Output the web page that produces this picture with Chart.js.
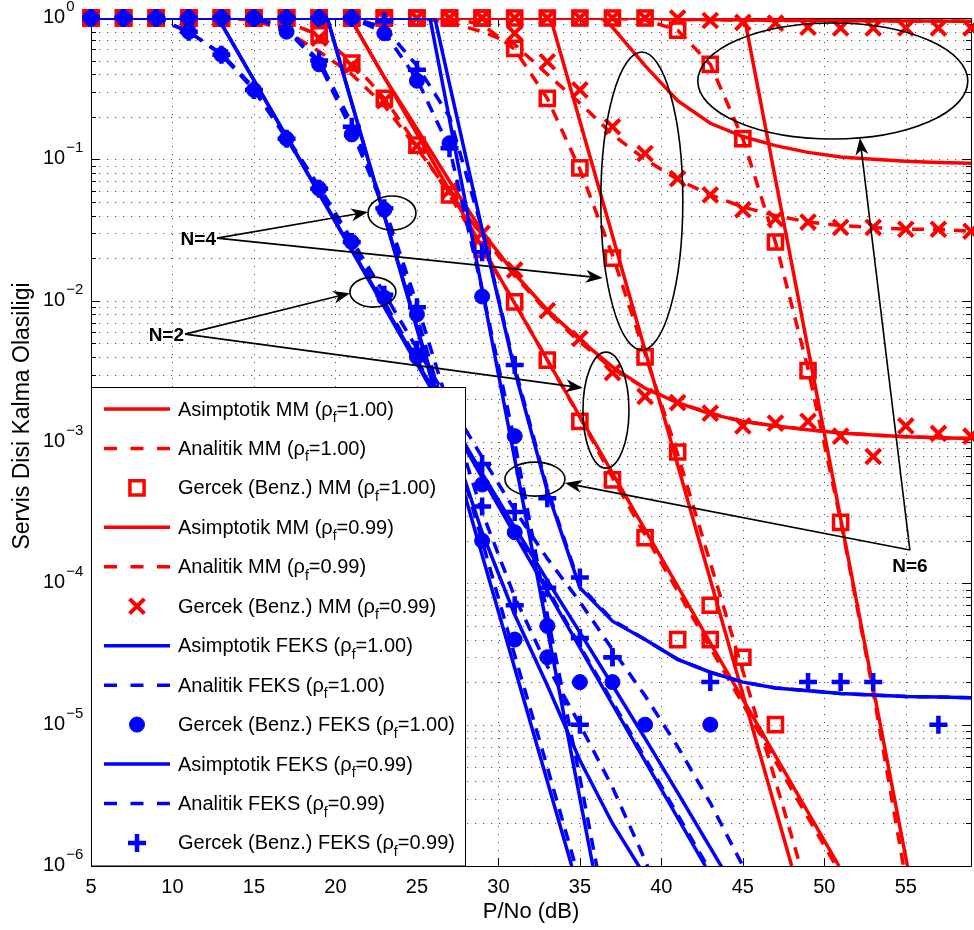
<!DOCTYPE html>
<html>
<head>
<meta charset="utf-8">
<script src="https://cdn.jsdelivr.net/npm/chart.js@4.4.0/dist/chart.umd.min.js"></script>
<style>
  html, body { margin: 0; padding: 0; background: #fff; }
  canvas { display: block; }
</style>
</head>
<body>
<canvas id="outage" width="974" height="930"></canvas>
<script>
// P/No (dB) values of the Monte Carlo points
var snrSim = [5, 7, 9, 11, 13, 15, 17, 19, 21, 23, 25, 27, 29, 31, 33, 35, 37, 39, 41, 43, 45, 47, 49, 51, 53, 55, 57, 59];
var xTickValues = [5, 10, 15, 20, 25, 30, 35, 40, 45, 50, 55];
var yDecades = [-6, -5, -4, -3, -2, -1, 0];

// ---- MM, rho_f = 1.00 : [P/No, Pout] ----
var mmAsyN2r100 = [[5, 1], [20.9, 1], [50.9, 1e-6]];
var mmAnaN2r100 = [[5, 1], [15, 1], [17, 0.93], [19, 0.76], [21, 0.49], [23, 0.27], [25, 0.126], [27, 0.056], [29, 0.023], [31, 0.0097], [33, 0.0038], [35, 0.0015], [37, 5.6e-4], [39, 2.2e-4], [41, 8.8e-5], [43, 3.5e-5], [45, 1.4e-5], [47, 5.5e-6], [49, 2.2e-6], [51, 8.8e-7]];
var mmAsyN4r100 = [[5, 1], [33.2, 1], [48, 1e-6]];
var mmAnaN4r100 = [[5, 1], [27, 1], [29, 0.9], [31, 0.6], [33, 0.27], [35, 0.085], [37, 0.021], [39, 4.2e-3], [41, 8.2e-4], [43, 1.4e-4], [45, 2.4e-5], [47, 4e-6], [49, 6.5e-7]];
var mmAsyN6r100 = [[5, 1], [45.1, 1], [55.1, 1e-6]];
var mmAnaN6r100 = [[5, 1], [37, 1], [39, 0.97], [41, 0.82], [43, 0.47], [45, 0.14], [47, 0.026], [49, 3.3e-3], [51, 2.8e-4], [53, 1.7e-5], [55, 8e-7]];
var mmSimN2r100 = [1, 1, 1, 1, 1, 1, 1, 0.76, 0.48, 0.27, 0.126, 0.056, 0.023, 0.0098, 0.0038, 0.0014, 5.4e-4, 2.1e-4, 4e-5, 4e-5, 3e-5, null, null, null, null, null, null, null];
var mmSimN4r100 = [1, 1, 1, 1, 1, 1, 1, 1, 1, 1, 1, 1, 1, 0.61, 0.27, 0.087, 0.02, 4e-3, 8.5e-4, 7e-5, null, 1e-5, null, null, null, null, null, null];
var mmSimN6r100 = [1, 1, 1, 1, 1, 1, 1, 1, 1, 1, 1, 1, 1, 1, 1, 1, 1, 1, 0.82, 0.47, 0.14, 0.026, 3.2e-3, 2.7e-4, null, null, null, null];

// ---- MM, rho_f = 0.99 ----
var mmAsyN2r99 = [[5, 1], [20.9, 1], [23, 0.38], [25, 0.165], [27, 0.07], [29, 0.031], [31, 0.0155], [33, 0.0086], [35, 0.0053], [37, 0.0034], [39, 0.0024], [41, 0.0019], [43, 0.00158], [45, 0.0014], [47, 0.0013], [49, 0.00122], [51, 0.00116], [53, 0.00112], [55, 0.00109], [57, 0.00107], [59, 0.00106]];
var mmAnaN2r99 = [[5, 1], [13, 1], [15, 0.97], [17, 0.8], [19, 0.58], [21, 0.4], [23, 0.24], [25, 0.12], [27, 0.058], [29, 0.029], [31, 0.015], [33, 0.0083], [35, 0.0051], [37, 0.0033], [39, 0.0024], [41, 0.0019], [43, 0.0016], [45, 0.0014], [47, 0.0013], [49, 0.00122], [51, 0.00116], [53, 0.00112], [55, 0.00109], [57, 0.00107], [59, 0.00106]];
var mmAsyN4r99 = [[5, 1], [36.3, 1], [37, 0.86], [39, 0.46], [41, 0.26], [43, 0.18], [45, 0.145], [47, 0.125], [49, 0.112], [51, 0.104], [53, 0.1], [55, 0.097], [57, 0.095], [59, 0.094]];
var mmAnaN4r99 = [[5, 1], [25, 1], [27, 0.93], [29, 0.8], [31, 0.65], [33, 0.4], [35, 0.25], [37, 0.15], [39, 0.1], [41, 0.072], [43, 0.056], [45, 0.046], [47, 0.04], [49, 0.036], [51, 0.034], [53, 0.033], [55, 0.032], [57, 0.032], [59, 0.031]];
var mmAsyN6r99 = [[5, 1], [39, 1], [41, 0.98], [47, 0.965], [53, 0.955], [59, 0.95]];
var mmAnaN6r99 = [[5, 1], [39, 1], [41, 0.98], [47, 0.96], [53, 0.955], [59, 0.95]];
var mmSimN2r99 = [1, 1, 1, 1, 1, 1, 1, 0.72, 0.46, 0.26, 0.125, 0.06, 0.03, 0.0165, 0.0085, 0.0054, 0.0031, 0.0021, 0.0019, 0.0016, 0.0013, 0.00136, 0.0014, 0.0011, 7.9e-4, 0.0013, 0.00115, 0.0011];
var mmSimN4r99 = [1, 1, 1, 1, 1, 1, 1, 1, 1, 1, 1, 1, 1, 0.78, 0.49, 0.31, 0.17, 0.11, 0.073, 0.056, 0.044, 0.038, 0.036, 0.033, 0.033, 0.032, 0.032, 0.031];
var mmSimN6r99 = [1, 1, 1, 1, 1, 1, 1, 1, 1, 1, 1, 1, 1, 1, 1, 1, 1, 1, 1, 0.96, 0.93, 0.92, 0.86, 0.85, 0.85, 0.85, 0.85, 0.85];

// ---- FEKS, rho_f = 1.00 ----
var fkAsyN2r100 = [[5, 1], [12.8, 1], [42.7, 1e-6]];
var fkAnaN2r100 = [[5, 1], [9, 1], [11, 0.8], [13, 0.55], [15, 0.31], [17, 0.14], [19, 0.06], [21, 0.025], [23, 0.0098], [25, 0.0038], [27, 1.5e-3], [29, 5.8e-4], [31, 2.3e-4], [33, 9.2e-5], [35, 3.6e-5], [37, 1.45e-5], [39, 5.8e-6], [41, 2.3e-6], [43, 9.2e-7]];
var fkAsyN4r100 = [[5, 1], [19.5, 1], [34.5, 1e-6]];
var fkAnaN4r100 = [[5, 1], [15, 1], [17, 0.82], [19, 0.48], [21, 0.16], [23, 0.044], [25, 7.8e-3], [27, 1.25e-3], [29, 2e-4], [31, 3.1e-5], [33, 5e-6], [35, 7.8e-7]];
var fkAsyN6r100 = [[5, 1], [25.8, 1], [35.8, 1e-6]];
var fkAnaN6r100 = [[5, 1], [21, 1], [23, 0.79], [25, 0.37], [27, 0.12], [29, 0.012], [31, 1e-3], [33, 6e-5], [35, 4.2e-6], [37, 2.6e-7]];
var fkSimN2r100 = [1, 1, 1, 0.8, 0.55, 0.31, 0.14, 0.062, 0.026, 0.0105, 0.004, 0.0016, 5e-4, 2.3e-4, 3e-5, 2e-5, 2e-5, 1e-5, null, 1e-5, null, null, null, null, null, null, null, null];
var fkSimN4r100 = [1, 1, 1, 1, 1, 1, 0.8, 0.47, 0.15, 0.044, 0.008, 0.0013, 2e-4, 4e-5, null, null, null, null, null, null, null, null, null, null, null, null, null, null];
var fkSimN6r100 = [1, 1, 1, 1, 1, 1, 1, 1, 1, 0.78, 0.36, 0.13, 0.0107, 1.1e-3, 5e-5, null, null, null, null, null, null, null, null, null, null, null, null, null];

// ---- FEKS, rho_f = 0.99 ----
var fkAsyN2r99 = [[5, 1], [12.8, 1], [17, 0.145], [21, 0.023], [25, 0.0037], [29, 6e-4], [31, 2.5e-4], [33, 1.05e-4], [35, 4.5e-5], [37, 1.9e-5], [39, 8e-6], [41, 3.3e-6], [43, 1.35e-6], [45, 5.5e-7]];
var fkAnaN2r99 = [[5, 1], [9, 1], [11, 0.8], [13, 0.56], [15, 0.32], [17, 0.145], [19, 0.064], [21, 0.027], [23, 0.0112], [25, 0.0046], [27, 1.9e-3], [29, 7.8e-4], [31, 3.3e-4], [33, 1.5e-4], [35, 7.4e-5], [37, 3.4e-5], [39, 1.6e-5], [41, 7e-6], [43, 2.8e-6], [45, 1e-6], [47, 3.5e-7]];
var fkAsyN4r99 = [[5, 1], [19.5, 1], [21, 0.25], [23, 0.04], [25, 6.5e-3], [27, 1.15e-3], [29, 2.3e-4], [31, 6e-5], [33, 1.9e-5], [35, 5.6e-6], [37, 2e-6], [39, 8.5e-7]];
var fkAnaN4r99 = [[5, 1], [15, 1], [17, 0.84], [19, 0.5], [21, 0.18], [23, 0.046], [25, 0.0095], [27, 1.7e-3], [29, 3.2e-4], [31, 8e-5], [33, 2.6e-5], [35, 1e-5], [37, 3.6e-6], [39, 1.1e-6], [41, 3e-7]];
var fkAsyN6r99 = [[5, 1], [26.1, 1], [27, 0.34], [29, 0.032], [31, 3.2e-3], [33, 4.5e-4], [35, 9.3e-5], [37, 5.4e-5], [39, 4e-5], [41, 2.9e-5], [43, 2.35e-5], [45, 2e-5], [47, 1.82e-5], [49, 1.74e-5], [51, 1.66e-5], [53, 1.62e-5], [55, 1.58e-5], [57, 1.57e-5], [59, 1.55e-5]];
var fkAnaN6r99 = [[5, 1], [21, 1], [23, 0.86], [25, 0.46], [27, 0.2], [29, 0.032], [31, 3.4e-3], [33, 4.7e-4], [35, 9.6e-5], [37, 5.5e-5], [39, 4e-5], [41, 2.9e-5], [43, 2.35e-5], [45, 2e-5], [47, 1.82e-5], [49, 1.74e-5], [51, 1.66e-5], [53, 1.62e-5], [55, 1.58e-5], [57, 1.57e-5], [59, 1.55e-5]];
var fkSimN2r99 = [1, 1, 1, 0.8, 0.55, 0.31, 0.14, 0.062, 0.026, 0.011, 0.0045, 0.0018, 7e-4, 3.2e-4, 9.3e-5, 4.1e-5, 3e-5, null, null, null, null, null, null, null, null, null, null, null];
var fkSimN4r99 = [1, 1, 1, 1, 1, 1, 1, 0.5, 0.17, 0.045, 0.009, 1.6e-3, 3.5e-4, 7e-5, null, 1e-5, null, null, null, null, null, null, null, null, null, null, null, null];
var fkSimN6r99 = [1, 1, 1, 1, 1, 1, 1, 1, 1, 0.95, 0.43, 0.12, 0.022, 3.5e-3, 4e-4, 1.1e-4, 3e-5, null, null, 2e-5, null, null, 2e-5, 2e-5, 2e-5, null, 1e-5, null];

var RED = '#ff0000';
var BLUE = '#0000ff';
var FONT = '"Liberation Sans", Arial, Helvetica, sans-serif';

var markStyles = {
  rect:     { pointStyle: 'rect',     r: 10,   w: 3.5, fill: false },
  crossRot: { pointStyle: 'crossRot', r: 10.5, w: 4,   fill: false },
  circle:   { pointStyle: 'circle',   r: 7.5,  w: 1,   fill: true },
  cross:    { pointStyle: 'cross',    r: 9,    w: 4.5, fill: false }
};

function curve(points, color, dashed) {
  return {
    data: points.map(function (p) { return { x: p[0], y: p[1] }; }),
    borderColor: color,
    borderWidth: 3.5,
    borderDash: dashed ? [12, 9] : [],
    pointRadius: 0,
    tension: 0
  };
}

function marks(values, color, kind) {
  var s = markStyles[kind];
  var pts = [];
  values.forEach(function (y, i) { if (y !== null) pts.push({ x: snrSim[i], y: y }); });
  return {
    data: pts,
    showLine: false,
    clip: false,
    pointStyle: s.pointStyle,
    pointRadius: s.r,
    pointBorderWidth: s.w,
    pointBorderColor: color,
    pointBackgroundColor: s.fill ? color : 'rgba(0,0,0,0)',
    borderColor: color,
    backgroundColor: color
  };
}

// bottom to top
var datasets = [
  curve(mmAsyN2r100, RED, false), curve(mmAnaN2r100, RED, true), marks(mmSimN2r100, RED, 'rect'),
  curve(mmAsyN4r100, RED, false), curve(mmAnaN4r100, RED, true), marks(mmSimN4r100, RED, 'rect'),
  curve(mmAsyN6r100, RED, false), curve(mmAnaN6r100, RED, true), marks(mmSimN6r100, RED, 'rect'),
  curve(mmAsyN2r99, RED, false), curve(mmAnaN2r99, RED, true), marks(mmSimN2r99, RED, 'crossRot'),
  curve(mmAsyN4r99, RED, false), curve(mmAnaN4r99, RED, true), marks(mmSimN4r99, RED, 'crossRot'),
  curve(mmAsyN6r99, RED, false), curve(mmAnaN6r99, RED, true), marks(mmSimN6r99, RED, 'crossRot'),
  curve(fkAsyN2r100, BLUE, false), curve(fkAnaN2r100, BLUE, true), marks(fkSimN2r100, BLUE, 'circle'),
  curve(fkAsyN4r100, BLUE, false), curve(fkAnaN4r100, BLUE, true), marks(fkSimN4r100, BLUE, 'circle'),
  curve(fkAsyN6r100, BLUE, false), curve(fkAnaN6r100, BLUE, true), marks(fkSimN6r100, BLUE, 'circle'),
  curve(fkAsyN2r99, BLUE, false), curve(fkAnaN2r99, BLUE, true), marks(fkSimN2r99, BLUE, 'cross'),
  curve(fkAsyN4r99, BLUE, false), curve(fkAnaN4r99, BLUE, true), marks(fkSimN4r99, BLUE, 'cross'),
  curve(fkAsyN6r99, BLUE, false), curve(fkAnaN6r99, BLUE, true), marks(fkSimN6r99, BLUE, 'cross')
];
// chart.js paints the lowest order last
datasets.forEach(function (d, i) { d.order = datasets.length - i; });

var legendRows = [
  { name: 'Asimptotik MM', rho: '1.00', color: RED, kind: 'solid' },
  { name: 'Analitik MM', rho: '1.00', color: RED, kind: 'dashed' },
  { name: 'Gercek (Benz.) MM', rho: '1.00', color: RED, kind: 'rect' },
  { name: 'Asimptotik MM', rho: '0.99', color: RED, kind: 'solid' },
  { name: 'Analitik MM', rho: '0.99', color: RED, kind: 'dashed' },
  { name: 'Gercek (Benz.) MM', rho: '0.99', color: RED, kind: 'crossRot' },
  { name: 'Asimptotik FEKS', rho: '1.00', color: BLUE, kind: 'solid' },
  { name: 'Analitik FEKS', rho: '1.00', color: BLUE, kind: 'dashed' },
  { name: 'Gercek (Benz.) FEKS', rho: '1.00', color: BLUE, kind: 'circle' },
  { name: 'Asimptotik FEKS', rho: '0.99', color: BLUE, kind: 'solid' },
  { name: 'Analitik FEKS', rho: '0.99', color: BLUE, kind: 'dashed' },
  { name: 'Gercek (Benz.) FEKS', rho: '0.99', color: BLUE, kind: 'cross' }
];

// ellipses around curve groups: centre in data units, radii in px
var rings = [
  [23.47, 0.0417, 24, 17],
  [22.3, 0.0115, 23, 15],
  [38.8, 0.0507, 41, 149],
  [36.6, 1.68e-3, 23, 58],
  [32.24, 5.46e-4, 30, 17],
  [50.52, 0.358, 135, 58]
];
var callouts = [
  { text: 'N=4', from: [12.73, 0.0277], to: [[22.0, 0.0424], [36.4, 0.01445]], place: 'left' },
  { text: 'N=2', from: [10.77, 5.8e-3], to: [[20.9, 0.0113], [35.18, 2.41e-3]], place: 'left' },
  { text: 'N=6', from: [55.25, 1.72e-4], to: [[34.08, 5.12e-4], [52.18, 0.1415]], place: 'below' }
];

function drawMarker(ctx, kind, color, cx, cy) {
  var s = markStyles[kind];
  ctx.save();
  ctx.strokeStyle = color;
  ctx.fillStyle = color;
  ctx.lineWidth = s.w;
  ctx.beginPath();
  if (kind === 'rect') {
    var h = s.r * Math.SQRT1_2;
    ctx.rect(cx - h, cy - h, 2 * h, 2 * h);
    ctx.stroke();
  } else if (kind === 'circle') {
    ctx.arc(cx, cy, s.r, 0, Math.PI * 2);
    ctx.fill();
    ctx.stroke();
  } else if (kind === 'cross') {
    ctx.moveTo(cx - s.r, cy); ctx.lineTo(cx + s.r, cy);
    ctx.moveTo(cx, cy - s.r); ctx.lineTo(cx, cy + s.r);
    ctx.stroke();
  } else {
    var d = s.r * Math.SQRT1_2;
    ctx.moveTo(cx - d, cy - d); ctx.lineTo(cx + d, cy + d);
    ctx.moveTo(cx + d, cy - d); ctx.lineTo(cx - d, cy + d);
    ctx.stroke();
  }
  ctx.restore();
}

function arrowHead(ctx, x0, y0, x1, y1) {
  var ang = Math.atan2(y1 - y0, x1 - x0);
  ctx.save();
  ctx.translate(x1, y1);
  ctx.rotate(ang);
  ctx.beginPath();
  ctx.moveTo(0, 0);
  ctx.lineTo(-17, -6.5);
  ctx.lineTo(-12, 0);
  ctx.lineTo(-17, 6.5);
  ctx.closePath();
  ctx.fill();
  ctx.restore();
}

var axesFrame = {
  id: 'axesFrame',
  beforeDatasetsDraw: function (chart) {
    var ctx = chart.ctx, a = chart.chartArea, xs = chart.scales.x, ys = chart.scales.y;
    ctx.save();
    ctx.strokeStyle = '#555';
    ctx.lineWidth = 1;
    ctx.setLineDash([1.2, 6.8]);
    ctx.beginPath();
    xTickValues.forEach(function (v) {
      var px = Math.round(xs.getPixelForValue(v)) + 0.5;
      if (px <= a.left + 1) return;
      ctx.moveTo(px, a.top); ctx.lineTo(px, a.bottom);
    });
    yDecades.forEach(function (e) {
      if (e === 0) return;
      for (var m = 1; m <= 9; m++) {
        if (e === -6 && m === 1) continue;
        var py = Math.round(ys.getPixelForValue(m * Math.pow(10, e))) + 0.5;
        ctx.moveTo(a.left, py); ctx.lineTo(a.right, py);
      }
    });
    ctx.stroke();
    ctx.setLineDash([]);

    // box and inward ticks
    ctx.strokeStyle = '#000';
    ctx.beginPath();
    ctx.rect(Math.round(a.left) + 0.5, Math.round(a.top) + 0.5, Math.round(a.right - a.left), Math.round(a.bottom - a.top));
    xTickValues.forEach(function (v) {
      var px = Math.round(xs.getPixelForValue(v)) + 0.5;
      ctx.moveTo(px, a.bottom); ctx.lineTo(px, a.bottom - 8);
      ctx.moveTo(px, a.top); ctx.lineTo(px, a.top + 8);
    });
    yDecades.forEach(function (e) {
      for (var m = 1; m <= 9; m++) {
        if (e === 0 && m > 1) break;
        var py = Math.round(ys.getPixelForValue(m * Math.pow(10, e))) + 0.5;
        var len = m === 1 ? 9 : 5;
        ctx.moveTo(a.left, py); ctx.lineTo(a.left + len, py);
        ctx.moveTo(a.right, py); ctx.lineTo(a.right - len, py);
      }
    });
    ctx.stroke();
    ctx.restore();
  },
  afterDraw: function (chart) {
    var ctx = chart.ctx, a = chart.chartArea, xs = chart.scales.x, ys = chart.scales.y;
    ctx.save();
    ctx.fillStyle = '#000';

    // tick labels
    ctx.font = '20px ' + FONT;
    ctx.textAlign = 'center';
    ctx.textBaseline = 'alphabetic';
    xTickValues.forEach(function (v) {
      ctx.fillText(String(v), xs.getPixelForValue(v), a.bottom + 27);
    });
    yDecades.forEach(function (e) {
      var py = ys.getPixelForValue(Math.pow(10, e));
      ctx.textAlign = 'left';
      ctx.font = '20px ' + FONT;
      ctx.fillText('10', 43, py + 5);
      var w = ctx.measureText('10').width;
      ctx.font = '15px ' + FONT;
      ctx.fillText(e === 0 ? '0' : '\u2212' + (-e), 43 + w + 1, py - 7);
    });

    // axis titles
    ctx.font = '22px ' + FONT;
    ctx.textAlign = 'center';
    ctx.fillText('P/No (dB)', (a.left + a.right) / 2, a.bottom + 52);
    ctx.save();
    ctx.translate(29, 416);
    ctx.rotate(-Math.PI / 2);
    ctx.font = '23px ' + FONT;
    ctx.fillText('Servis Disi Kalma Olasiligi', 0, 0);
    ctx.restore();

    // legend
    var lx = Math.round(a.left) + 0.5, ly = 387.5, lw = 374, lh = a.bottom - 387.5;
    ctx.fillStyle = '#fff';
    ctx.fillRect(lx, ly, lw, lh);
    ctx.strokeStyle = '#000';
    ctx.lineWidth = 1;
    ctx.strokeRect(lx, ly, lw, lh);
    legendRows.forEach(function (row, i) {
      var cy = 409 + i * 39.45;
      if (row.kind === 'solid' || row.kind === 'dashed') {
        ctx.save();
        ctx.strokeStyle = row.color;
        ctx.lineWidth = 3.5;
        ctx.setLineDash(row.kind === 'dashed' ? [13, 13.5] : []);
        ctx.beginPath();
        ctx.moveTo(104, cy); ctx.lineTo(170, cy);
        ctx.stroke();
        ctx.restore();
      } else {
        drawMarker(ctx, row.kind, row.color, 137, cy);
      }
      ctx.fillStyle = '#000';
      ctx.textAlign = 'left';
      ctx.font = '20px ' + FONT;
      var head = row.name + ' (\u03c1';
      var tx = 178;
      ctx.fillText(head, tx, cy + 6.5);
      tx += ctx.measureText(head).width;
      ctx.font = '14px ' + FONT;
      ctx.fillText('f', tx, cy + 13);
      tx += ctx.measureText('f').width;
      ctx.font = '20px ' + FONT;
      ctx.fillText('=' + row.rho + ')', tx, cy + 6.5);
    });

    // N = 2 / 4 / 6 call-outs
    ctx.strokeStyle = '#000';
    ctx.fillStyle = '#000';
    ctx.lineWidth = 1.6;
    rings.forEach(function (r) {
      ctx.beginPath();
      ctx.ellipse(xs.getPixelForValue(r[0]), ys.getPixelForValue(r[1]), r[2], r[3], 0, 0, Math.PI * 2);
      ctx.stroke();
    });
    callouts.forEach(function (c) {
      var ox = xs.getPixelForValue(c.from[0]), oy = ys.getPixelForValue(c.from[1]);
      c.to.forEach(function (t) {
        var tx = xs.getPixelForValue(t[0]), ty = ys.getPixelForValue(t[1]);
        var ang = Math.atan2(ty - oy, tx - ox);
        ctx.beginPath();
        ctx.moveTo(ox, oy);
        ctx.lineTo(tx - Math.cos(ang) * 12, ty - Math.sin(ang) * 12);
        ctx.stroke();
        arrowHead(ctx, ox, oy, tx, ty);
      });
      ctx.font = 'bold 19px ' + FONT;
      if (c.place === 'left') {
        ctx.textAlign = 'right';
        ctx.fillText(c.text, ox - 1, oy + 7);
      } else {
        ctx.textAlign = 'center';
        ctx.fillText(c.text, ox, oy + 22);
      }
    });
    ctx.restore();
  }
};

new Chart('outage', {
  type: 'line',
  data: { datasets: datasets },
  options: {
    responsive: false,
    animation: false,
    events: [],
    devicePixelRatio: 1,
    layout: { autoPadding: false, padding: { left: 91, top: 18, right: 3, bottom: 64 } },
    scales: {
      x: { type: 'linear', min: 5, max: 59, display: false },
      y: { type: 'logarithmic', min: 1e-6, max: 1, display: false }
    },
    plugins: {
      legend: { display: false },
      tooltip: { enabled: false }
    }
  },
  plugins: [axesFrame]
});
</script>
</body>
</html>
